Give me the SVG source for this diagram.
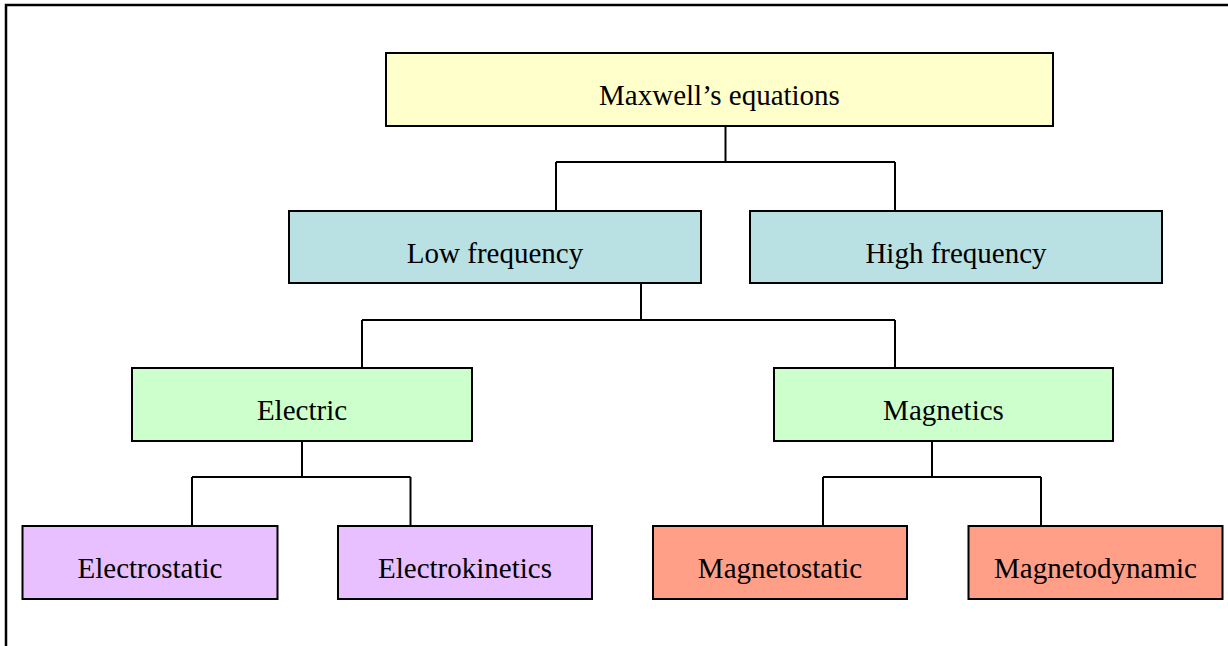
<svg xmlns="http://www.w3.org/2000/svg" width="1228" height="646" viewBox="0 0 1228 646">
<style>
.box{stroke:#000;stroke-width:2}
.lbl{font-family:"Liberation Serif","Times New Roman",serif;font-size:29px;fill:#000;text-anchor:middle}
.c{fill:none;stroke:#000;stroke-width:2}
</style>
<rect x="0" y="0" width="1228" height="646" fill="#fff"/>
<rect x="6" y="5" width="1240" height="660" fill="none" stroke="#000" stroke-width="2.5"/>
<g id="connectors">
<path class="c" d="M725.5 126V162M556 162H895M556 162V211M895 162V211"/>
<path class="c" d="M641 283V320M362 320H895M362 320V368M895 320V368"/>
<path class="c" d="M302 441V477M192 477H410.5M192 477V526M410.5 477V526"/>
<path class="c" d="M932 441V477M823 477H1041M823 477V526M1041 477V526"/>
</g>
<g id="maxwell"><rect class="box" x="386" y="53" width="667" height="73" fill="#FFFFCC"/><text class="lbl" x="719.5" y="105">Maxwell’s equations</text></g>
<g id="low"><rect class="box" x="289" y="211" width="412" height="72" fill="#B9E0E3"/><text class="lbl" x="495" y="263">Low frequency</text></g>
<g id="high"><rect class="box" x="750" y="211" width="412" height="72" fill="#B9E0E3"/><text class="lbl" x="956" y="263">High frequency</text></g>
<g id="electric"><rect class="box" x="132" y="368" width="340" height="73" fill="#CCFFCC"/><text class="lbl" x="302" y="420">Electric</text></g>
<g id="magnetics"><rect class="box" x="774" y="368" width="339" height="73" fill="#CCFFCC"/><text class="lbl" x="943.5" y="420">Magnetics</text></g>
<g id="electrostatic"><rect class="box" x="22.5" y="526" width="255" height="73" fill="#E8BFFF"/><text class="lbl" x="150" y="578">Electrostatic</text></g>
<g id="electrokinetics"><rect class="box" x="338" y="526" width="254" height="73" fill="#E8BFFF"/><text class="lbl" x="465" y="578">Electrokinetics</text></g>
<g id="magnetostatic"><rect class="box" x="653" y="526" width="254" height="73" fill="#FF9F88"/><text class="lbl" x="780" y="578">Magnetostatic</text></g>
<g id="magnetodynamic"><rect class="box" x="968.5" y="526" width="254" height="73" fill="#FF9F88"/><text class="lbl" x="1095.5" y="578">Magnetodynamic</text></g>
</svg>
